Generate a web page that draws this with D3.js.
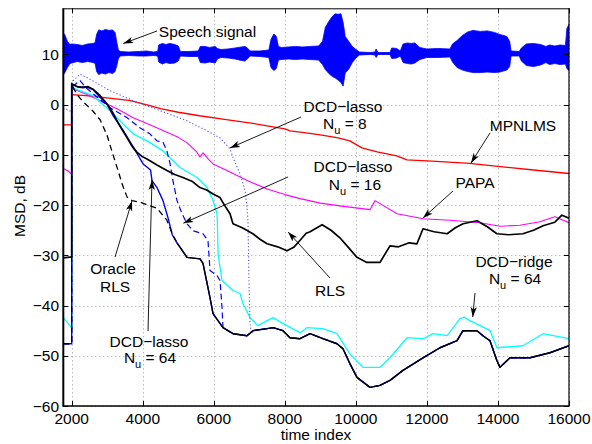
<!DOCTYPE html>
<html>
<head>
<meta charset="utf-8">
<script src="https://cdn.jsdelivr.net/npm/d3@7"></script>
<style>
  html, body { margin: 0; padding: 0; background: #fff; }
  svg { display: block; }
  text { font-family: "Liberation Sans", Arial, Helvetica, sans-serif; fill: #000; }
</style>
</head>
<body>
<svg id="chart" width="592" height="444"></svg>
<script>
// ---- axis settings ----
const xDomain = [1763, 16000];
const yDomain = [-60, 19.2];
const xTicks = [2000, 4000, 6000, 8000, 10000, 12000, 14000, 16000];
const yTicks = [-60, -50, -40, -30, -20, -10, 0, 10];

// ---- speech waveform envelope: [time, upper, lower] (dB offset scale) ----
const speechEnv = [
  [1763,14.3,6.0],[1800,14.0,6.3],[1880,12.6,7.4],[1950,12.0,8.2],[2000,12.1,8.3],[2150,12.0,8.6],
  [2300,11.8,8.4],[2450,12.1,8.6],[2600,12.2,8.4],[2660,12.4,8.2],[2700,14.0,6.6],[2760,14.9,6.0],
  [2850,14.7,6.3],[2950,15.0,6.1],[3050,14.8,6.4],[3150,14.9,6.2],[3220,14.4,6.6],[3270,12.4,7.8],
  [3310,11.0,9.1],[3360,10.6,9.7],[3600,10.5,9.8],[3900,10.6,9.7],[4100,10.7,9.7],[4300,10.5,9.8],
  [4420,10.6,9.7],[4450,11.9,8.5],[4550,12.2,8.1],[4650,12.0,8.4],[4760,12.2,8.2],[4900,12.0,8.3],
  [5000,11.7,8.7],[5060,10.6,9.7],[5300,10.6,9.6],[5560,10.7,9.6],[5620,11.6,8.4],[5750,11.6,8.3],
  [5880,11.4,8.5],[6040,11.6,8.3],[6100,11.2,9.1],[6200,11.0,9.4],[6400,11.1,9.3],[6600,11.3,9.1],
  [6780,11.5,8.8],[6880,11.6,8.7],[6960,11.2,9.2],[7020,10.7,9.7],[7300,10.7,9.6],[7550,10.9,9.4],
  [7610,13.0,7.4],[7690,14.1,6.8],[7760,13.6,7.2],[7820,11.6,8.9],[7900,11.4,9.0],[8100,11.5,9.1],
  [8300,11.6,9.0],[8500,11.5,9.1],[8700,11.6,9.0],[8950,11.7,8.9],[9060,12.6,8.0],[9140,15.4,7.0],
  [9240,16.6,6.2],[9340,17.6,5.6],[9420,18.1,5.3],[9500,18.0,4.9],[9580,18.1,4.4],[9640,16.4,3.7],
  [9700,13.6,6.3],[9800,12.6,7.1],[9900,11.6,8.4],[10000,11.0,9.3],[10100,10.5,9.9],[10400,10.4,10.0],
  [10540,10.5,9.9],[10570,11.1,9.4],[10620,10.4,10.0],[10960,10.4,10.0],[11010,11.3,9.2],[11150,11.2,9.3],
  [11250,10.7,9.7],[11330,12.1,8.4],[11450,12.3,8.2],[11560,12.2,8.1],[11660,12.3,8.3],[11800,11.4,9.0],
  [12000,11.1,9.4],[12300,11.2,9.4],[12650,11.1,9.5],[12720,12.1,8.5],[12850,12.8,7.4],[13000,13.8,6.9],
  [13150,14.5,6.6],[13300,14.8,6.4],[13500,14.6,6.4],[13700,14.7,6.5],[13900,14.4,6.4],[14050,14.0,6.5],
  [14250,13.6,6.9],[14330,12.6,7.6],[14370,10.7,9.7],[14600,10.6,9.7],[14660,11.3,8.7],[14800,12.1,7.8],
  [15000,12.2,7.6],[15200,12.0,7.9],[15350,11.6,8.4],[15450,11.9,8.0],[15600,11.7,8.2],[15750,11.9,8.0],
  [15900,11.8,8.1],[15940,15.2,7.2],[16000,16.0,6.8]
];

// ---- MSD curves: [time, MSD dB] ----
const mpnlms = [
  [1763,-4.0],[1999,-4.0],[2000,2.0],[2400,1.8],[2800,1.5],[3300,1.1],[3650,0.8],[4200,-0.2],
  [4500,-0.8],[5000,-1.5],[5600,-2.2],[6300,-2.9],[7000,-3.6],[7500,-4.2],[8000,-4.8],[8150,-5.2],
  [8600,-5.6],[9000,-6.0],[9500,-6.6],[9830,-7.2],[10170,-8.6],[10600,-9.4],[11150,-10.2],[11440,-11.0],
  [12000,-11.2],[12500,-11.4],[13200,-11.7],[14000,-12.3],[15000,-13.0],[16000,-13.7]
];
const papa = [
  [1763,-12.7],[1900,-13.2],[1999,-13.8],[2000,3.2],[2100,3.0],[2450,2.0],[2800,0.8],[3300,-0.9],
  [3730,-2.6],[4200,-4.0],[4680,-5.5],[5000,-6.5],[5250,-7.6],[5520,-9.4],[5610,-10.4],[5700,-9.6],
  [5840,-10.8],[5980,-11.8],[6370,-13.1],[6940,-15.1],[7500,-16.8],[8000,-17.9],[8430,-18.7],[9000,-19.6],
  [9600,-20.2],[10400,-20.9],[10540,-19.1],[10680,-19.7],[11160,-21.7],[11890,-22.7],[12650,-23.0],
  [13490,-23.5],[14060,-24.2],[14620,-24.0],[15180,-23.3],[15600,-22.3],[16000,-23.5]
];
const rls = [
  [1763,-30.5],[1999,-30.3],[2000,4.2],[2150,3.6],[2320,3.4],[2450,3.6],[2600,3.1],[2800,1.8],
  [2990,0.2],[3150,-1.5],[3275,-3.2],[3420,-5.0],[3560,-6.6],[3700,-8.3],[3840,-9.5],[3980,-10.3],
  [4120,-10.8],[4400,-12.0],[4680,-13.1],[4900,-13.9],[5130,-14.5],[5400,-15.3],[5610,-16.5],[5800,-17.0],
  [5980,-17.8],[6175,-18.5],[6300,-20.0],[6456,-21.7],[6540,-23.7],[6800,-24.5],[7100,-25.7],[7300,-26.8],
  [7500,-27.7],[7800,-28.3],[8060,-29.1],[8250,-28.4],[8430,-27.0],[8600,-25.6],[8710,-25.3],[9050,-23.9],
  [9300,-25.0],[9550,-26.5],[9800,-28.5],[10030,-30.4],[10310,-31.4],[10680,-31.4],[10960,-28.1],
  [11200,-28.3],[11500,-27.5],[11720,-27.7],[11890,-24.7],[12200,-25.3],[12570,-25.7],[12800,-24.5],
  [13020,-23.7],[13410,-23.1],[13700,-24.3],[13970,-25.7],[14300,-25.9],[14700,-25.7],[15000,-25.0],
  [15270,-24.1],[15600,-23.4],[15800,-22.0],[16000,-22.6]
];
// shared late-stage trajectory of the sparse DCD-lasso runs and the oracle
const lowerTail = [
  [4964,-27.5],[5246,-30.4],[5612,-30.7],[5696,-31.6],[5893,-38.4],[5978,-41.6],[6259,-44.4],[6541,-45.6],
  [6935,-46.0],[7104,-45.0],[7498,-44.6],[7667,-44.4],[7948,-45.0],[8145,-46.4],[8426,-46.6],[8708,-45.6],
  [9074,-46.6],[9468,-47.6],[9637,-48.6],[9834,-51.6],[10031,-54.3],[10397,-56.3],[10679,-55.9],
  [10960,-54.9],[11326,-52.9],[11889,-50.4],[12368,-48.4],[12847,-47.0],[13015,-45.0],[13409,-45.0],
  [13578,-46.0],[13775,-47.0],[13972,-51.0],[14057,-52.3],[14338,-50.4],[14901,-50.4],[15464,-49.4],
  [16000,-48.0]
];
const oracleHead = [
  [1763,-47.6],[1999,-47.6],[2000,4.0],[2150,2.0],[2320,0.6],[2600,-1.3],[2800,-3.0],[2990,-6.0],
  [3120,-9.0],[3300,-13.0],[3420,-15.8],[3560,-18.4],[3700,-19.1],[3920,-19.4],[4150,-20.0],[4400,-20.6],
  [4680,-23.0],[4850,-26.0],[4964,-27.5]
];
const lasso64Head = [
  [1763,-47.6],[1999,-47.6],[2000,4.0],[2200,3.5],[2400,3.6],[2600,3.0],[2800,1.5],[3000,0.0],
  [3150,-2.0],[3440,-5.0],[3730,-8.4],[4010,-11.8],[4150,-12.6],[4220,-13.0],[4260,-15.1],[4400,-16.5],
  [4570,-19.1],[4710,-22.5],[4830,-25.9],[4964,-27.5]
];
const lasso16Head = [
  [1763,-47.6],[1999,-47.6],[2000,3.5],[2234,4.8],[2400,3.4],[2600,2.2],[3080,-0.6],[3560,-2.6],
  [3920,-4.6],[4200,-5.8],[4400,-7.2],[4570,-7.5],[4680,-9.2],[4770,-11.8],[4850,-15.1],[4964,-19.1],
  [5105,-21.7],[5246,-23.7],[5415,-25.1],[5696,-25.7],[5837,-27.1],[5893,-33.0],[6090,-34.0],[6175,-35.0],
  [6231,-40.4],[6259,-44.4]
];
const lasso8Head = [
  [1763,-0.6],[1999,-1.4],[2000,4.5],[2234,6.1],[2430,5.4],[3080,2.8],[3730,0.8],[4490,-1.2],
  [5250,-3.2],[5810,-5.2],[6175,-6.6],[6456,-8.8],[6541,-10.5],[6740,-13.8],[6880,-17.1],[6935,-20.5],
  [6963,-23.1],[6990,-35.0],[7019,-43.6],[7060,-45.6]
];
const ridge64 = [
  [1763,-42.4],[1999,-44.4],[2000,3.4],[2300,2.6],[2600,1.8],[3080,-1.2],[3440,-3.8],[3730,-5.8],
  [4120,-7.2],[4570,-9.2],[5050,-12.5],[5530,-14.5],[5810,-16.5],[5980,-19.1],[6090,-21.7],[6100,-23.1],
  [6120,-29.7],[6230,-35.0],[6540,-37.0],[6740,-37.6],[6820,-39.6],[7020,-42.4],[7240,-44.0],[7500,-43.0],
  [7670,-42.4],[7950,-43.6],[8430,-45.4],[8620,-44.4],[9070,-44.6],[9470,-45.6],[9830,-49.6],[10200,-52.3],
  [10680,-52.3],[10960,-50.4],[11440,-46.4],[11890,-46.6],[12170,-45.6],[12570,-46.0],[12930,-42.6],
  [13050,-42.3],[13210,-43.0],[13780,-45.0],[13970,-48.4],[14700,-48.0],[15270,-45.6],[16000,-46.6]
];

// continue a head segment with the shared tail after its last time
function withTail(head) {
  const last = head[head.length - 1][0];
  return head.concat(lowerTail.filter(d => d[0] > last));
}

// ---- annotations: text lines at (t, v), arrow from -> to in data units ----
const notes = [
  { lines: ["Speech signal"], at: [[5823, 14.68]], from: [4401, 14.68], to: [3452, 12.19] },
  { lines: ["DCD\u2212lasso", ["N", "u", " = 8"]], at: [[9637, -0.36], [9690, -3.64]], from: [8455, -2.45], to: [6456, -8.62] },
  { lines: ["MPNLMS"], at: [[14705, -4.04]], from: [13776, -5.63], to: [13241, -11.61] },
  { lines: ["DCD\u2212lasso", ["N", "u", " = 16"]], at: [[9919, -12.3], [9975, -15.79]], from: [8092, -14.39], to: [5143, -23.6] },
  { lines: ["PAPA"], at: [[13353, -15.39]], from: [12734, -17.18], to: [11889, -22.56] },
  { lines: ["RLS"], at: [[9272, -36.9]], from: [9272, -34.51], to: [8092, -25.35] },
  { lines: ["DCD\u2212ridge", ["N", "u", " = 64"]], at: [[14451, -31.22], [14480, -34.51]], from: [13353, -37.5], to: [13291, -42.27] },
  { lines: ["Oracle", "RLS"], at: [[3162, -32.52], [3219, -36.1]], from: [3219, -30.33], to: [3697, -19.17] },
  { lines: ["DCD\u2212lasso", ["N", "u", " = 64"]], at: [[4176, -47.05], [4204, -50.24]], from: [4148, -45.06], to: [4260, -14.99] }
];

// ---- layout ----
const svg = d3.select("#chart");
const plot = { left: 63.3, right: 569, top: 8.3, bottom: 406 };
const x = d3.scaleLinear().domain(xDomain).range([plot.left, plot.right]);
const y = d3.scaleLinear().domain(yDomain).range([plot.bottom, plot.top]);
const fontSize = 15.5;

svg.append("defs").append("clipPath").attr("id", "clip")
  .append("rect").attr("x", plot.left).attr("y", plot.top)
  .attr("width", plot.right - plot.left).attr("height", plot.bottom - plot.top);

svg.select("defs").append("marker")
  .attr("id", "arrow").attr("viewBox", "-10 -4 11 8")
  .attr("refX", 0).attr("refY", 0)
  .attr("markerWidth", 11).attr("markerHeight", 8)
  .attr("markerUnits", "userSpaceOnUse").attr("orient", "auto")
  .append("path").attr("d", "M0,0 L-10,-3.2 L-7.5,0 L-10,3.2 Z").attr("fill", "#000");

// grid (dotted)
const grid = svg.append("g").attr("stroke", "#9a9a9a").attr("stroke-width", 1).attr("stroke-dasharray", "1,3");
grid.selectAll("line.gx").data(xTicks).join("line")
  .attr("x1", d => Math.round(x(d)) + 0.5).attr("x2", d => Math.round(x(d)) + 0.5)
  .attr("y1", plot.top).attr("y2", plot.bottom);
grid.selectAll("line.gy").data(yTicks).join("line")
  .attr("y1", d => Math.round(y(d)) + 0.5).attr("y2", d => Math.round(y(d)) + 0.5)
  .attr("x1", plot.left).attr("x2", plot.right);

const g = svg.append("g").attr("clip-path", "url(#clip)");

// speech waveform band
g.append("path")
  .datum(speechEnv)
  .attr("fill", "#0000ff")
  .attr("stroke", "#0000ff").attr("stroke-width", 0.8)
  .attr("d", d3.area().x(d => x(d[0])).y0(d => y(d[2])).y1(d => y(d[1])));

const line = d3.line().x(d => x(d[0])).y(d => y(d[1]));
function draw(data, color, width, dash) {
  const p = g.append("path").datum(data)
    .attr("fill", "none").attr("stroke", color).attr("stroke-width", width)
    .attr("stroke-linejoin", "round").attr("d", line);
  if (dash) p.attr("stroke-dasharray", dash);
  return p;
}

draw(mpnlms, "#ff0000", 1.3);
draw(papa, "#ff00ff", 1.1);
draw(ridge64, "#00ffff", 1.3);
draw(withTail(lasso8Head), "#5050ff", 1.1, "1.2,2.2");
draw(withTail(lasso16Head), "#0000ff", 1.2, "6,3.5");
draw(withTail(lasso64Head), "#0000ff", 1.4);
draw(oracleHead, "#000000", 1.3, "6,4");
draw(lowerTail, "#000000", 1.4);
draw(rls, "#000000", 1.7);

// axes box
svg.append("line").attr("x1", plot.left).attr("x2", plot.right).attr("y1", plot.top + 0.5).attr("y2", plot.top + 0.5).attr("stroke", "#000").attr("stroke-width", 1);
svg.append("line").attr("x1", plot.right).attr("x2", plot.right).attr("y1", plot.top).attr("y2", plot.bottom).attr("stroke", "#000").attr("stroke-width", 1.2);
svg.append("line").attr("x1", plot.left).attr("x2", plot.right + 0.6).attr("y1", plot.bottom).attr("y2", plot.bottom).attr("stroke", "#000").attr("stroke-width", 1.6);
svg.append("line").attr("x1", plot.left).attr("x2", plot.left).attr("y1", plot.top).attr("y2", plot.bottom + 0.8).attr("stroke", "#000").attr("stroke-width", 2);

// inward ticks on all four sides
const tickLen = 5;
const ticks = svg.append("g").attr("stroke", "#000").attr("stroke-width", 1);
xTicks.forEach(t => {
  const px = Math.round(x(t)) + 0.5;
  ticks.append("line").attr("x1", px).attr("x2", px).attr("y1", plot.bottom).attr("y2", plot.bottom - tickLen);
  ticks.append("line").attr("x1", px).attr("x2", px).attr("y1", plot.top).attr("y2", plot.top + tickLen);
});
yTicks.forEach(v => {
  const py = Math.round(y(v)) + 0.5;
  ticks.append("line").attr("x1", plot.left).attr("x2", plot.left + tickLen).attr("y1", py).attr("y2", py);
  ticks.append("line").attr("x1", plot.right).attr("x2", plot.right - tickLen).attr("y1", py).attr("y2", py);
});

// tick labels
const fmt = d3.format("d");
svg.append("g").selectAll("text").data(xTicks).join("text")
  .attr("x", d => x(d)).attr("y", 424)
  .attr("text-anchor", "middle").attr("font-size", fontSize)
  .text(d => fmt(d));
svg.append("g").selectAll("text").data(yTicks).join("text")
  .attr("x", 59).attr("y", d => y(d)).attr("dy", "0.36em")
  .attr("text-anchor", "end").attr("font-size", fontSize)
  .text(d => fmt(d));

// axis titles
svg.append("text").attr("x", 316).attr("y", 440).attr("text-anchor", "middle")
  .attr("font-size", fontSize).text("time index");
svg.append("text").attr("transform", "translate(24.5,206) rotate(-90)").attr("text-anchor", "middle")
  .attr("font-size", fontSize).text("MSD, dB");

// annotations
const ann = svg.append("g");
notes.forEach(n => {
  ann.append("line")
    .attr("x1", x(n.from[0])).attr("y1", y(n.from[1]))
    .attr("x2", x(n.to[0])).attr("y2", y(n.to[1]))
    .attr("stroke", "#000").attr("stroke-width", 0.9)
    .attr("marker-end", "url(#arrow)");
  n.lines.forEach((ln, i) => {
    const t = ann.append("text")
      .attr("x", x(n.at[i][0])).attr("y", y(n.at[i][1])).attr("dy", "0.36em")
      .attr("text-anchor", "middle").attr("font-size", fontSize);
    if (Array.isArray(ln)) {
      t.append("tspan").text(ln[0]);
      t.append("tspan").attr("font-size", 11).attr("dy", 5).text(ln[1]);
      t.append("tspan").attr("dy", -5).text(ln[2]);
    } else {
      t.text(ln);
    }
  });
});
</script>
</body>
</html>
